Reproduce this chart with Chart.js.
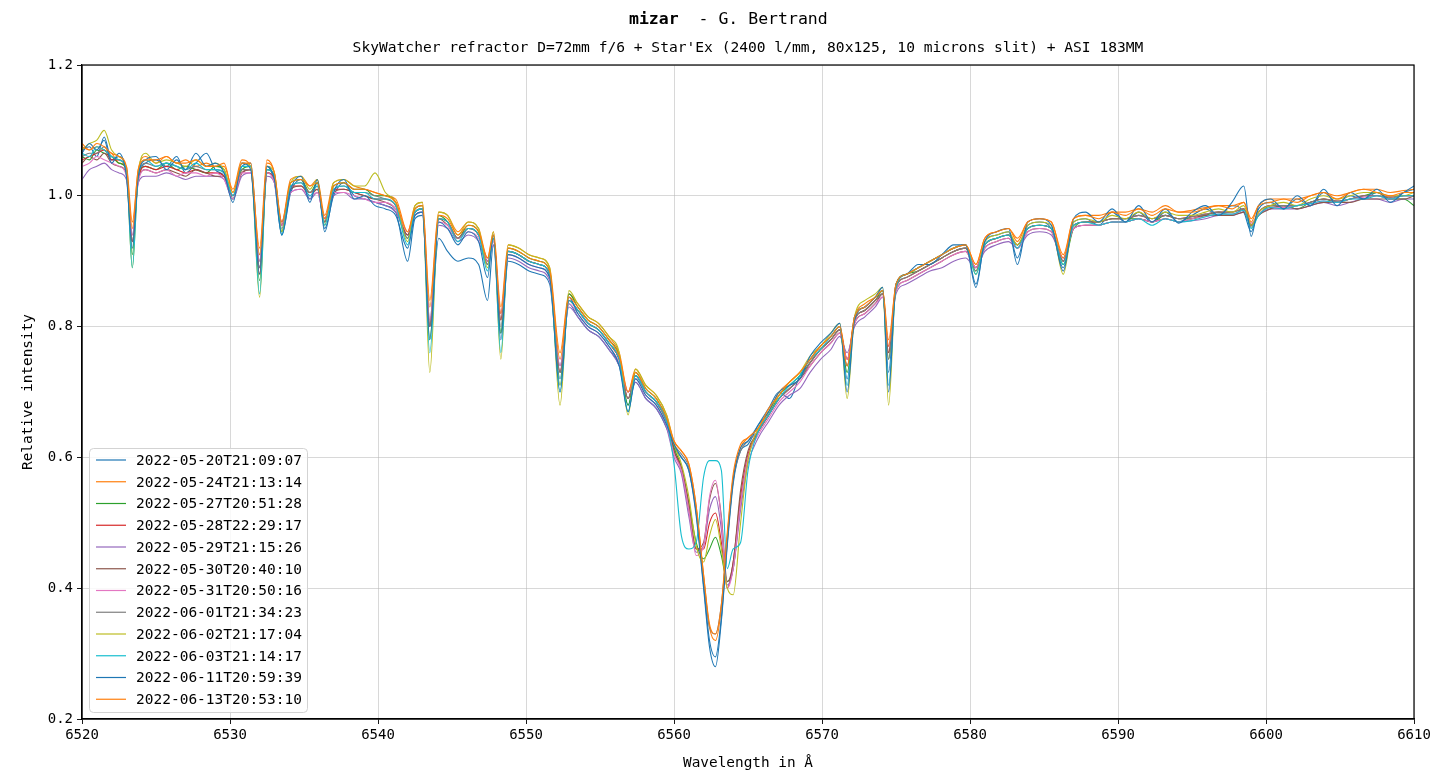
<!DOCTYPE html>
<html>
<head>
<meta charset="utf-8">
<title>mizar - G. Bertrand</title>
<script src="https://cdn.jsdelivr.net/npm/chart.js@4.4.1/dist/chart.umd.min.js"></script>
<style>
  html, body { margin: 0; padding: 0; background: #fff; }
  canvas { display: block; }
</style>
</head>
<body>
<canvas id="spec" width="1431" height="771"></canvas>
<script>
// wavelengths in Angstrom, shared by all spectra
const wavelength = [
  6520, 6520.5, 6521, 6521.5, 6522, 6522.5, 6523, 6523.4, 6523.8, 6524.3, 6525, 6525.7, 6526.4, 6527, 6527.7, 6528.4, 6529, 6529.6,
  6530.2, 6530.8, 6531.4, 6532, 6532.5, 6533, 6533.5, 6534.1, 6534.8, 6535.4, 6535.9, 6536.4, 6537, 6537.7, 6538.4, 6539.1, 6539.8, 6540.5, 6541.2,
  6542, 6542.5, 6543, 6543.5, 6544.1, 6544.7, 6545.4, 6546.1, 6546.8, 6547.4, 6547.8, 6548.3, 6548.8, 6549.5, 6550.2, 6550.9, 6551.6, 6552.3, 6552.9, 6553.5, 6554.2, 6554.9, 6555.6, 6556.3, 6556.9, 6557.4, 6558.1, 6558.8, 6559.5,
  6560, 6560.5, 6561, 6561.5, 6562, 6562.4, 6562.8, 6563.2, 6563.6, 6564, 6564.5, 6565,
  6565.7, 6566.4, 6567.1, 6567.8, 6568.5, 6569.2, 6569.9, 6570.6, 6571.2, 6571.7, 6572.2, 6572.9, 6573.6, 6574.1, 6574.5, 6575, 6575.7, 6576.5, 6577.3, 6578.1, 6578.9, 6579.7, 6580.4,
  6581, 6581.8, 6582.6, 6583.2, 6583.9, 6584.7, 6585.5, 6586.3, 6587, 6587.8, 6588.7, 6589.6, 6590.5, 6591.4, 6592.3, 6593.2, 6594.1, 6595, 6595.9, 6596.8, 6597.7, 6598.5, 6599, 6599.5, 6600.3, 6601.2, 6602.1, 6603, 6603.9, 6604.8, 6605.7, 6606.6, 6607.5, 6608.4, 6609.3, 6610
];

const obsDates = [
  "2022-05-20T21:09:07", "2022-05-24T21:13:14", "2022-05-27T20:51:28", "2022-05-28T22:29:17",
  "2022-05-29T21:15:26", "2022-05-30T20:40:10", "2022-05-31T20:50:16", "2022-06-01T21:34:23",
  "2022-06-02T21:17:04", "2022-06-03T21:14:17", "2022-06-11T20:59:39", "2022-06-13T20:53:10"
];

// relative intensity, one array per night
const spec0520 = [
  1.070,1.075,1.060,1.090,1.055,1.060,1.035,0.930,1.025,1.050,1.055,1.045,1.060,1.035,1.050,1.065,1.040,1.030,
  0.995,1.045,1.050,0.900,1.045,1.020,0.940,1.005,1.025,0.995,1.020,0.950,1.000,1.020,1.000,0.995,0.990,0.985,0.975,
  0.900,0.965,0.970,0.800,0.935,0.915,0.900,0.905,0.895,0.840,0.925,0.790,0.900,0.895,0.885,0.880,0.865,0.720,0.835,0.815,0.795,0.785,0.765,0.740,0.680,0.715,0.690,0.675,0.645,
  0.615,0.600,0.580,0.510,0.400,0.310,0.280,0.350,0.465,0.560,0.610,0.620,
  0.650,0.675,0.700,0.690,0.725,0.750,0.770,0.785,0.800,0.720,0.815,0.830,0.845,0.855,0.730,0.865,0.880,0.890,0.900,0.910,0.920,0.925,0.860,
  0.930,0.940,0.945,0.905,0.955,0.960,0.950,0.890,0.960,0.965,0.955,0.975,0.960,0.975,0.960,0.975,0.960,0.970,0.980,0.970,0.985,0.975,0.945,0.980,0.990,0.980,0.995,0.985,1.005,0.990,1.000,0.995,1.005,0.995,1.005,1.010
];
const spec0524 = [
  1.080,1.070,1.075,1.070,1.065,1.050,1.045,0.960,1.040,1.060,1.050,1.060,1.050,1.055,1.045,1.050,1.045,1.045,
  1.010,1.055,1.045,0.920,1.055,1.035,0.960,1.025,1.030,1.015,1.025,0.970,1.020,1.025,1.015,1.010,1.005,1.000,0.995,
  0.945,0.985,0.990,0.840,0.975,0.970,0.945,0.960,0.950,0.905,0.945,0.830,0.925,0.920,0.910,0.905,0.890,0.760,0.850,0.835,0.815,0.805,0.785,0.760,0.700,0.735,0.710,0.695,0.665,
  0.625,0.610,0.590,0.525,0.420,0.340,0.320,0.370,0.480,0.570,0.615,0.630,
  0.645,0.670,0.700,0.715,0.730,0.750,0.770,0.785,0.800,0.750,0.815,0.835,0.845,0.855,0.780,0.865,0.880,0.890,0.900,0.910,0.920,0.925,0.895,
  0.935,0.945,0.950,0.935,0.960,0.965,0.960,0.910,0.965,0.970,0.970,0.975,0.975,0.980,0.975,0.985,0.975,0.978,0.982,0.985,0.985,0.990,0.965,0.985,0.995,0.995,0.995,1.000,1.005,1.000,1.005,1.010,1.010,1.005,1.008,1.010
];
const spec0527 = [
  1.060,1.055,1.070,1.065,1.060,1.050,1.040,0.910,1.030,1.045,1.040,1.050,1.040,1.045,1.040,1.035,1.045,1.040,
  0.995,1.040,1.045,0.870,1.040,1.030,0.945,1.020,1.025,1.005,1.020,0.960,1.015,1.020,1.010,1.010,1.000,1.000,0.990,
  0.935,0.980,0.985,0.780,0.970,0.960,0.935,0.955,0.945,0.895,0.940,0.790,0.920,0.915,0.905,0.900,0.885,0.710,0.850,0.830,0.810,0.800,0.780,0.755,0.680,0.730,0.705,0.690,0.660,
  0.615,0.585,0.530,0.470,0.445,0.460,0.478,0.450,0.410,0.430,0.530,0.600,
  0.640,0.665,0.695,0.710,0.725,0.745,0.765,0.780,0.795,0.730,0.810,0.825,0.840,0.855,0.750,0.860,0.880,0.885,0.895,0.905,0.915,0.920,0.885,
  0.925,0.935,0.940,0.925,0.950,0.955,0.950,0.895,0.950,0.960,0.960,0.965,0.965,0.965,0.960,0.970,0.965,0.965,0.970,0.975,0.970,0.980,0.955,0.970,0.985,0.985,0.980,0.990,0.995,0.990,0.995,1.000,1.005,0.995,0.995,0.985
];
const spec0528 = [
  1.055,1.060,1.065,1.070,1.055,1.055,1.035,0.930,1.025,1.045,1.040,1.045,1.040,1.035,1.040,1.035,1.035,1.030,
  1.000,1.035,1.040,0.880,1.035,1.025,0.955,1.015,1.015,1.005,1.010,0.960,1.010,1.010,1.005,1.000,0.995,0.995,0.985,
  0.940,0.975,0.980,0.800,0.965,0.960,0.935,0.950,0.940,0.900,0.935,0.810,0.915,0.910,0.900,0.895,0.880,0.730,0.840,0.825,0.805,0.795,0.775,0.750,0.690,0.725,0.700,0.685,0.655,
  0.610,0.580,0.520,0.460,0.460,0.500,0.515,0.470,0.400,0.440,0.540,0.605,
  0.640,0.665,0.690,0.705,0.720,0.745,0.765,0.780,0.795,0.750,0.810,0.825,0.840,0.850,0.760,0.860,0.875,0.885,0.895,0.905,0.915,0.920,0.890,
  0.925,0.935,0.940,0.925,0.950,0.955,0.950,0.900,0.955,0.960,0.960,0.965,0.965,0.970,0.965,0.970,0.965,0.968,0.972,0.975,0.975,0.980,0.955,0.975,0.985,0.985,0.985,0.990,0.995,0.992,0.995,1.000,1.000,0.998,1.000,1.000
];
const spec0529 = [
  1.025,1.040,1.045,1.050,1.040,1.035,1.025,0.940,1.020,1.030,1.030,1.035,1.030,1.025,1.030,1.030,1.030,1.025,
  0.995,1.030,1.035,0.890,1.030,1.020,0.960,1.005,1.010,0.995,1.005,0.965,1.000,1.005,0.995,0.995,0.990,0.985,0.975,
  0.940,0.970,0.975,0.810,0.955,0.950,0.930,0.940,0.930,0.895,0.925,0.820,0.905,0.900,0.890,0.885,0.870,0.740,0.830,0.815,0.795,0.785,0.765,0.740,0.700,0.715,0.690,0.675,0.645,
  0.600,0.575,0.510,0.455,0.465,0.520,0.540,0.490,0.405,0.430,0.520,0.590,
  0.630,0.655,0.680,0.695,0.705,0.730,0.750,0.765,0.785,0.760,0.800,0.815,0.830,0.845,0.770,0.850,0.865,0.875,0.885,0.890,0.900,0.905,0.890,
  0.915,0.925,0.930,0.920,0.940,0.945,0.940,0.905,0.950,0.955,0.955,0.960,0.960,0.965,0.960,0.965,0.960,0.962,0.965,0.970,0.970,0.975,0.955,0.970,0.980,0.980,0.980,0.985,0.990,0.985,0.990,0.995,0.995,0.990,0.995,0.995
];
const spec0530 = [
  1.050,1.060,1.055,1.065,1.050,1.045,1.035,0.930,1.025,1.040,1.035,1.040,1.035,1.030,1.040,1.035,1.030,1.030,
  1.000,1.035,1.040,0.890,1.035,1.025,0.955,1.010,1.015,1.000,1.010,0.965,1.005,1.010,1.005,1.000,0.995,0.990,0.980,
  0.940,0.975,0.980,0.800,0.965,0.955,0.935,0.950,0.940,0.900,0.935,0.810,0.915,0.910,0.900,0.895,0.880,0.730,0.840,0.825,0.805,0.795,0.775,0.750,0.690,0.725,0.700,0.685,0.655,
  0.610,0.585,0.530,0.460,0.470,0.535,0.560,0.510,0.410,0.440,0.550,0.610,
  0.640,0.665,0.690,0.705,0.720,0.740,0.760,0.775,0.790,0.740,0.805,0.820,0.835,0.850,0.760,0.855,0.870,0.880,0.890,0.900,0.910,0.915,0.890,
  0.920,0.930,0.935,0.920,0.945,0.950,0.945,0.900,0.950,0.955,0.955,0.960,0.960,0.965,0.960,0.965,0.960,0.965,0.970,0.970,0.970,0.975,0.955,0.970,0.980,0.985,0.980,0.985,0.990,0.990,0.990,0.995,0.995,0.995,0.995,1.000
];
const spec0531 = [
  1.045,1.050,1.060,1.055,1.050,1.045,1.030,0.940,1.020,1.040,1.035,1.040,1.030,1.035,1.035,1.030,1.035,1.025,
  0.995,1.035,1.035,0.900,1.035,1.020,0.955,1.005,1.010,1.000,1.005,0.965,1.005,1.005,1.000,0.995,0.990,0.990,0.980,
  0.945,0.970,0.975,0.810,0.960,0.955,0.935,0.945,0.935,0.900,0.930,0.820,0.910,0.905,0.895,0.890,0.875,0.740,0.835,0.820,0.800,0.790,0.770,0.745,0.700,0.720,0.695,0.680,0.650,
  0.605,0.580,0.520,0.450,0.465,0.540,0.565,0.505,0.400,0.430,0.530,0.600,
  0.635,0.660,0.685,0.700,0.715,0.740,0.760,0.775,0.790,0.750,0.805,0.820,0.835,0.845,0.770,0.855,0.870,0.880,0.890,0.900,0.910,0.915,0.890,
  0.920,0.930,0.935,0.920,0.945,0.950,0.945,0.905,0.950,0.955,0.955,0.960,0.960,0.965,0.960,0.965,0.960,0.965,0.968,0.972,0.972,0.978,0.958,0.972,0.982,0.982,0.985,0.988,0.992,0.990,0.995,0.998,1.000,0.995,1.000,1.000
];
const spec0601 = [
  1.060,1.065,1.065,1.075,1.060,1.055,1.040,0.930,1.030,1.050,1.045,1.050,1.045,1.040,1.045,1.040,1.040,1.035,
  1.000,1.040,1.040,0.890,1.040,1.030,0.950,1.015,1.020,1.005,1.015,0.960,1.010,1.015,1.005,1.005,1.000,0.995,0.985,
  0.935,0.975,0.980,0.800,0.965,0.960,0.935,0.950,0.940,0.895,0.935,0.800,0.915,0.910,0.900,0.895,0.880,0.730,0.840,0.825,0.805,0.795,0.775,0.750,0.690,0.725,0.700,0.685,0.655,
  0.620,0.605,0.585,0.520,0.415,0.340,0.330,0.375,0.475,0.565,0.610,0.625,
  0.640,0.665,0.690,0.705,0.720,0.745,0.765,0.780,0.795,0.740,0.810,0.825,0.840,0.850,0.750,0.860,0.875,0.885,0.895,0.905,0.915,0.920,0.885,
  0.925,0.935,0.940,0.925,0.950,0.955,0.950,0.900,0.955,0.960,0.960,0.965,0.965,0.970,0.965,0.970,0.965,0.968,0.972,0.975,0.975,0.980,0.952,0.975,0.985,0.985,0.985,0.990,0.995,0.992,0.995,1.000,1.000,0.998,1.000,1.000
];
const spec0602 = [
  1.070,1.080,1.085,1.100,1.070,1.060,1.040,0.890,1.035,1.065,1.050,1.055,1.050,1.045,1.055,1.045,1.050,1.040,
  1.005,1.050,1.045,0.845,1.045,1.035,0.945,1.020,1.030,1.010,1.025,0.955,1.020,1.025,1.015,1.015,1.035,1.005,0.990,
  0.930,0.985,0.990,0.730,0.975,0.970,0.940,0.960,0.950,0.890,0.945,0.750,0.925,0.920,0.910,0.905,0.890,0.680,0.855,0.835,0.815,0.805,0.785,0.760,0.665,0.735,0.710,0.695,0.665,
  0.620,0.590,0.540,0.465,0.440,0.480,0.505,0.460,0.400,0.390,0.500,0.595,
  0.645,0.670,0.695,0.715,0.730,0.755,0.770,0.790,0.805,0.690,0.815,0.840,0.850,0.860,0.680,0.865,0.880,0.890,0.900,0.910,0.920,0.925,0.880,
  0.930,0.940,0.945,0.925,0.955,0.960,0.955,0.880,0.960,0.965,0.960,0.970,0.965,0.975,0.965,0.975,0.970,0.970,0.975,0.980,0.975,0.985,0.955,0.975,0.985,0.990,0.985,0.995,1.000,0.995,1.000,1.005,1.005,1.000,1.000,1.005
];
const spec0603 = [
  1.065,1.060,1.075,1.070,1.060,1.055,1.040,0.890,1.030,1.055,1.045,1.050,1.045,1.040,1.050,1.040,1.040,1.035,
  1.000,1.045,1.045,0.850,1.040,1.030,0.940,1.015,1.020,1.000,1.015,0.955,1.010,1.015,1.005,1.005,0.995,0.995,0.985,
  0.925,0.975,0.980,0.760,0.965,0.960,0.930,0.950,0.940,0.885,0.935,0.760,0.915,0.910,0.900,0.895,0.880,0.700,0.840,0.825,0.805,0.795,0.775,0.750,0.670,0.725,0.700,0.685,0.655,
  0.590,0.480,0.460,0.470,0.570,0.595,0.595,0.580,0.430,0.460,0.470,0.580,
  0.640,0.665,0.690,0.710,0.725,0.750,0.765,0.785,0.800,0.710,0.815,0.830,0.845,0.855,0.710,0.860,0.880,0.890,0.900,0.910,0.920,0.925,0.880,
  0.925,0.935,0.940,0.920,0.950,0.955,0.950,0.895,0.955,0.960,0.955,0.960,0.960,0.965,0.955,0.965,0.960,0.962,0.968,0.972,0.972,0.978,0.950,0.970,0.982,0.980,0.985,0.988,0.992,0.990,0.995,0.995,1.000,0.995,1.000,1.000
];
const spec0611 = [
  1.065,1.080,1.070,1.085,1.050,1.065,1.030,0.920,1.030,1.055,1.060,1.040,1.055,1.040,1.065,1.045,1.050,1.035,
  0.990,1.050,1.040,0.880,1.045,1.025,0.940,1.010,1.030,0.990,1.025,0.945,1.005,1.025,0.995,1.000,0.985,0.980,0.970,
  0.920,0.970,0.975,0.780,0.960,0.950,0.925,0.945,0.930,0.875,0.940,0.780,0.910,0.905,0.895,0.890,0.875,0.700,0.845,0.820,0.800,0.790,0.770,0.740,0.670,0.720,0.695,0.680,0.650,
  0.620,0.600,0.580,0.515,0.405,0.320,0.295,0.355,0.470,0.565,0.615,0.625,
  0.650,0.670,0.700,0.710,0.720,0.755,0.775,0.790,0.805,0.700,0.810,0.830,0.845,0.860,0.700,0.865,0.880,0.895,0.895,0.910,0.925,0.925,0.865,
  0.930,0.945,0.950,0.895,0.960,0.965,0.955,0.885,0.965,0.975,0.960,0.980,0.960,0.985,0.960,0.980,0.958,0.975,0.985,0.970,0.990,1.015,0.938,0.985,0.995,0.980,1.000,0.985,1.010,0.985,1.005,0.995,1.010,0.990,1.005,1.015
];
const spec0613 = [
  1.075,1.070,1.080,1.075,1.065,1.060,1.045,0.950,1.040,1.055,1.055,1.060,1.050,1.050,1.055,1.045,1.045,1.050,
  1.005,1.050,1.050,0.910,1.050,1.035,0.960,1.020,1.025,1.015,1.020,0.965,1.015,1.020,1.010,1.010,1.005,1.000,0.990,
  0.945,0.980,0.985,0.830,0.970,0.965,0.940,0.955,0.945,0.905,0.940,0.820,0.920,0.915,0.905,0.900,0.885,0.750,0.845,0.830,0.810,0.800,0.780,0.755,0.700,0.730,0.705,0.690,0.660,
  0.625,0.610,0.590,0.525,0.420,0.345,0.330,0.375,0.485,0.575,0.620,0.630,
  0.645,0.675,0.695,0.715,0.730,0.750,0.770,0.785,0.800,0.740,0.815,0.830,0.845,0.855,0.770,0.865,0.880,0.890,0.900,0.910,0.920,0.925,0.895,
  0.935,0.945,0.950,0.930,0.960,0.965,0.960,0.905,0.965,0.970,0.965,0.975,0.970,0.980,0.970,0.980,0.975,0.975,0.980,0.985,0.980,0.990,0.960,0.985,0.990,0.995,0.990,1.000,1.005,0.995,1.005,1.010,1.005,1.000,1.005,1.005
];

const spectra = [spec0520, spec0524, spec0527, spec0528, spec0529, spec0530,
                 spec0531, spec0601, spec0602, spec0603, spec0611, spec0613];

// matplotlib tab10 cycle
const colors = ['#1f77b4', '#ff7f0e', '#2ca02c', '#d62728', '#9467bd', '#8c564b',
                '#e377c2', '#7f7f7f', '#bcbd22', '#17becf', '#1f77b4', '#ff7f0e'];

const xTicks = [6520, 6530, 6540, 6550, 6560, 6570, 6580, 6590, 6600, 6610];
const yTicks = [0.2, 0.4, 0.6, 0.8, 1.0, 1.2];

const MONO = "'DejaVu Sans Mono', monospace";

const datasets = spectra.map((vals, i) => ({
  label: obsDates[i],
  data: vals.map((v, k) => ({ x: wavelength[k], y: v })),
  borderColor: colors[i],
  borderWidth: 1.1,
  pointRadius: 0,
  fill: false,
  cubicInterpolationMode: 'monotone',
  order: -i
}));

// title, subtitle, axis labels, top/right frame and the legend box
const decorations = {
  id: 'decorations',
  afterDraw(chart) {
    const ctx = chart.ctx;
    const a = chart.chartArea;
    ctx.save();
    ctx.fillStyle = '#000';
    ctx.textBaseline = 'middle';

    // title
    ctx.textAlign = 'left';
    ctx.font = "bold 16.5px " + MONO;
    const bold = 'mizar';
    ctx.fillText(bold, 629, 20);
    const w = ctx.measureText(bold).width;
    ctx.font = "16.5px " + MONO;
    ctx.fillText('  - G. Bertrand', 629 + w, 20);

    // subtitle
    ctx.textAlign = 'center';
    ctx.font = "14.6px " + MONO;
    ctx.fillText("SkyWatcher refractor D=72mm f/6 + Star'Ex (2400 l/mm, 80x125, 10 microns slit) + ASI 183MM",
      (a.left + a.right) / 2, 48);

    // axis titles
    ctx.font = "14.4px " + MONO;
    ctx.fillText('Wavelength in Å', (a.left + a.right) / 2, 763);
    ctx.save();
    ctx.translate(28, (a.top + a.bottom) / 2);
    ctx.rotate(-Math.PI / 2);
    ctx.fillText('Relative intensity', 0, 0);
    ctx.restore();

    // frame
    ctx.strokeStyle = '#000';
    ctx.lineWidth = 1.2;
    ctx.strokeRect(a.left, a.top, a.right - a.left, a.bottom - a.top);

    // legend
    const lx = 89.5, ly = 448.5, lw = 218, lh = 264, step = 21.75;
    ctx.beginPath();
    ctx.roundRect(lx, ly, lw, lh, 4);
    ctx.fillStyle = 'rgba(255,255,255,0.85)';
    ctx.fill();
    ctx.strokeStyle = '#d3d3d3';
    ctx.lineWidth = 1;
    ctx.stroke();
    ctx.textAlign = 'left';
    ctx.font = "14.5px " + MONO;
    obsDates.forEach((d, i) => {
      const y = 460 + i * step;
      ctx.strokeStyle = colors[i];
      ctx.lineWidth = 1.2;
      ctx.beginPath();
      ctx.moveTo(96, y);
      ctx.lineTo(126, y);
      ctx.stroke();
      ctx.fillStyle = '#000';
      ctx.fillText(d, 136, y + 1);
    });
    ctx.restore();
  }
};

new Chart(document.getElementById('spec'), {
  type: 'line',
  data: { datasets: datasets },
  options: {
    responsive: false,
    animation: false,
    devicePixelRatio: 1,
    layout: { padding: { left: 0, right: 17, top: 65, bottom: 0 } },
    plugins: {
      legend: { display: false },
      title: { display: false },
      tooltip: { enabled: false }
    },
    scales: {
      x: {
        type: 'linear',
        min: 6520,
        max: 6610,
        afterFit: s => { s.height = 52; s.paddingRight = 0; s.paddingLeft = 0; },
        afterBuildTicks: s => { s.ticks = xTicks.map(v => ({ value: v })); },
        ticks: {
          autoSkip: false,
          maxRotation: 0,
          padding: 3,
          color: '#000',
          font: { family: MONO, size: 14 },
          callback: v => String(v)
        },
        grid: { color: 'rgba(176,176,176,0.55)', lineWidth: 0.9, tickColor: '#000', tickLength: 5 },
        border: { color: '#000', width: 1.2 }
      },
      y: {
        min: 0.2,
        max: 1.2,
        afterFit: s => { s.width = 82; s.paddingTop = 0; s.paddingBottom = 0; },
        afterBuildTicks: s => { s.ticks = yTicks.map(v => ({ value: v })); },
        ticks: {
          padding: 4,
          color: '#000',
          font: { family: MONO, size: 14 },
          callback: v => v.toFixed(1)
        },
        grid: { color: 'rgba(176,176,176,0.55)', lineWidth: 0.9, tickColor: '#000', tickLength: 5 },
        border: { color: '#000', width: 1.2 }
      }
    }
  },
  plugins: [decorations]
});
</script>
</body>
</html>
